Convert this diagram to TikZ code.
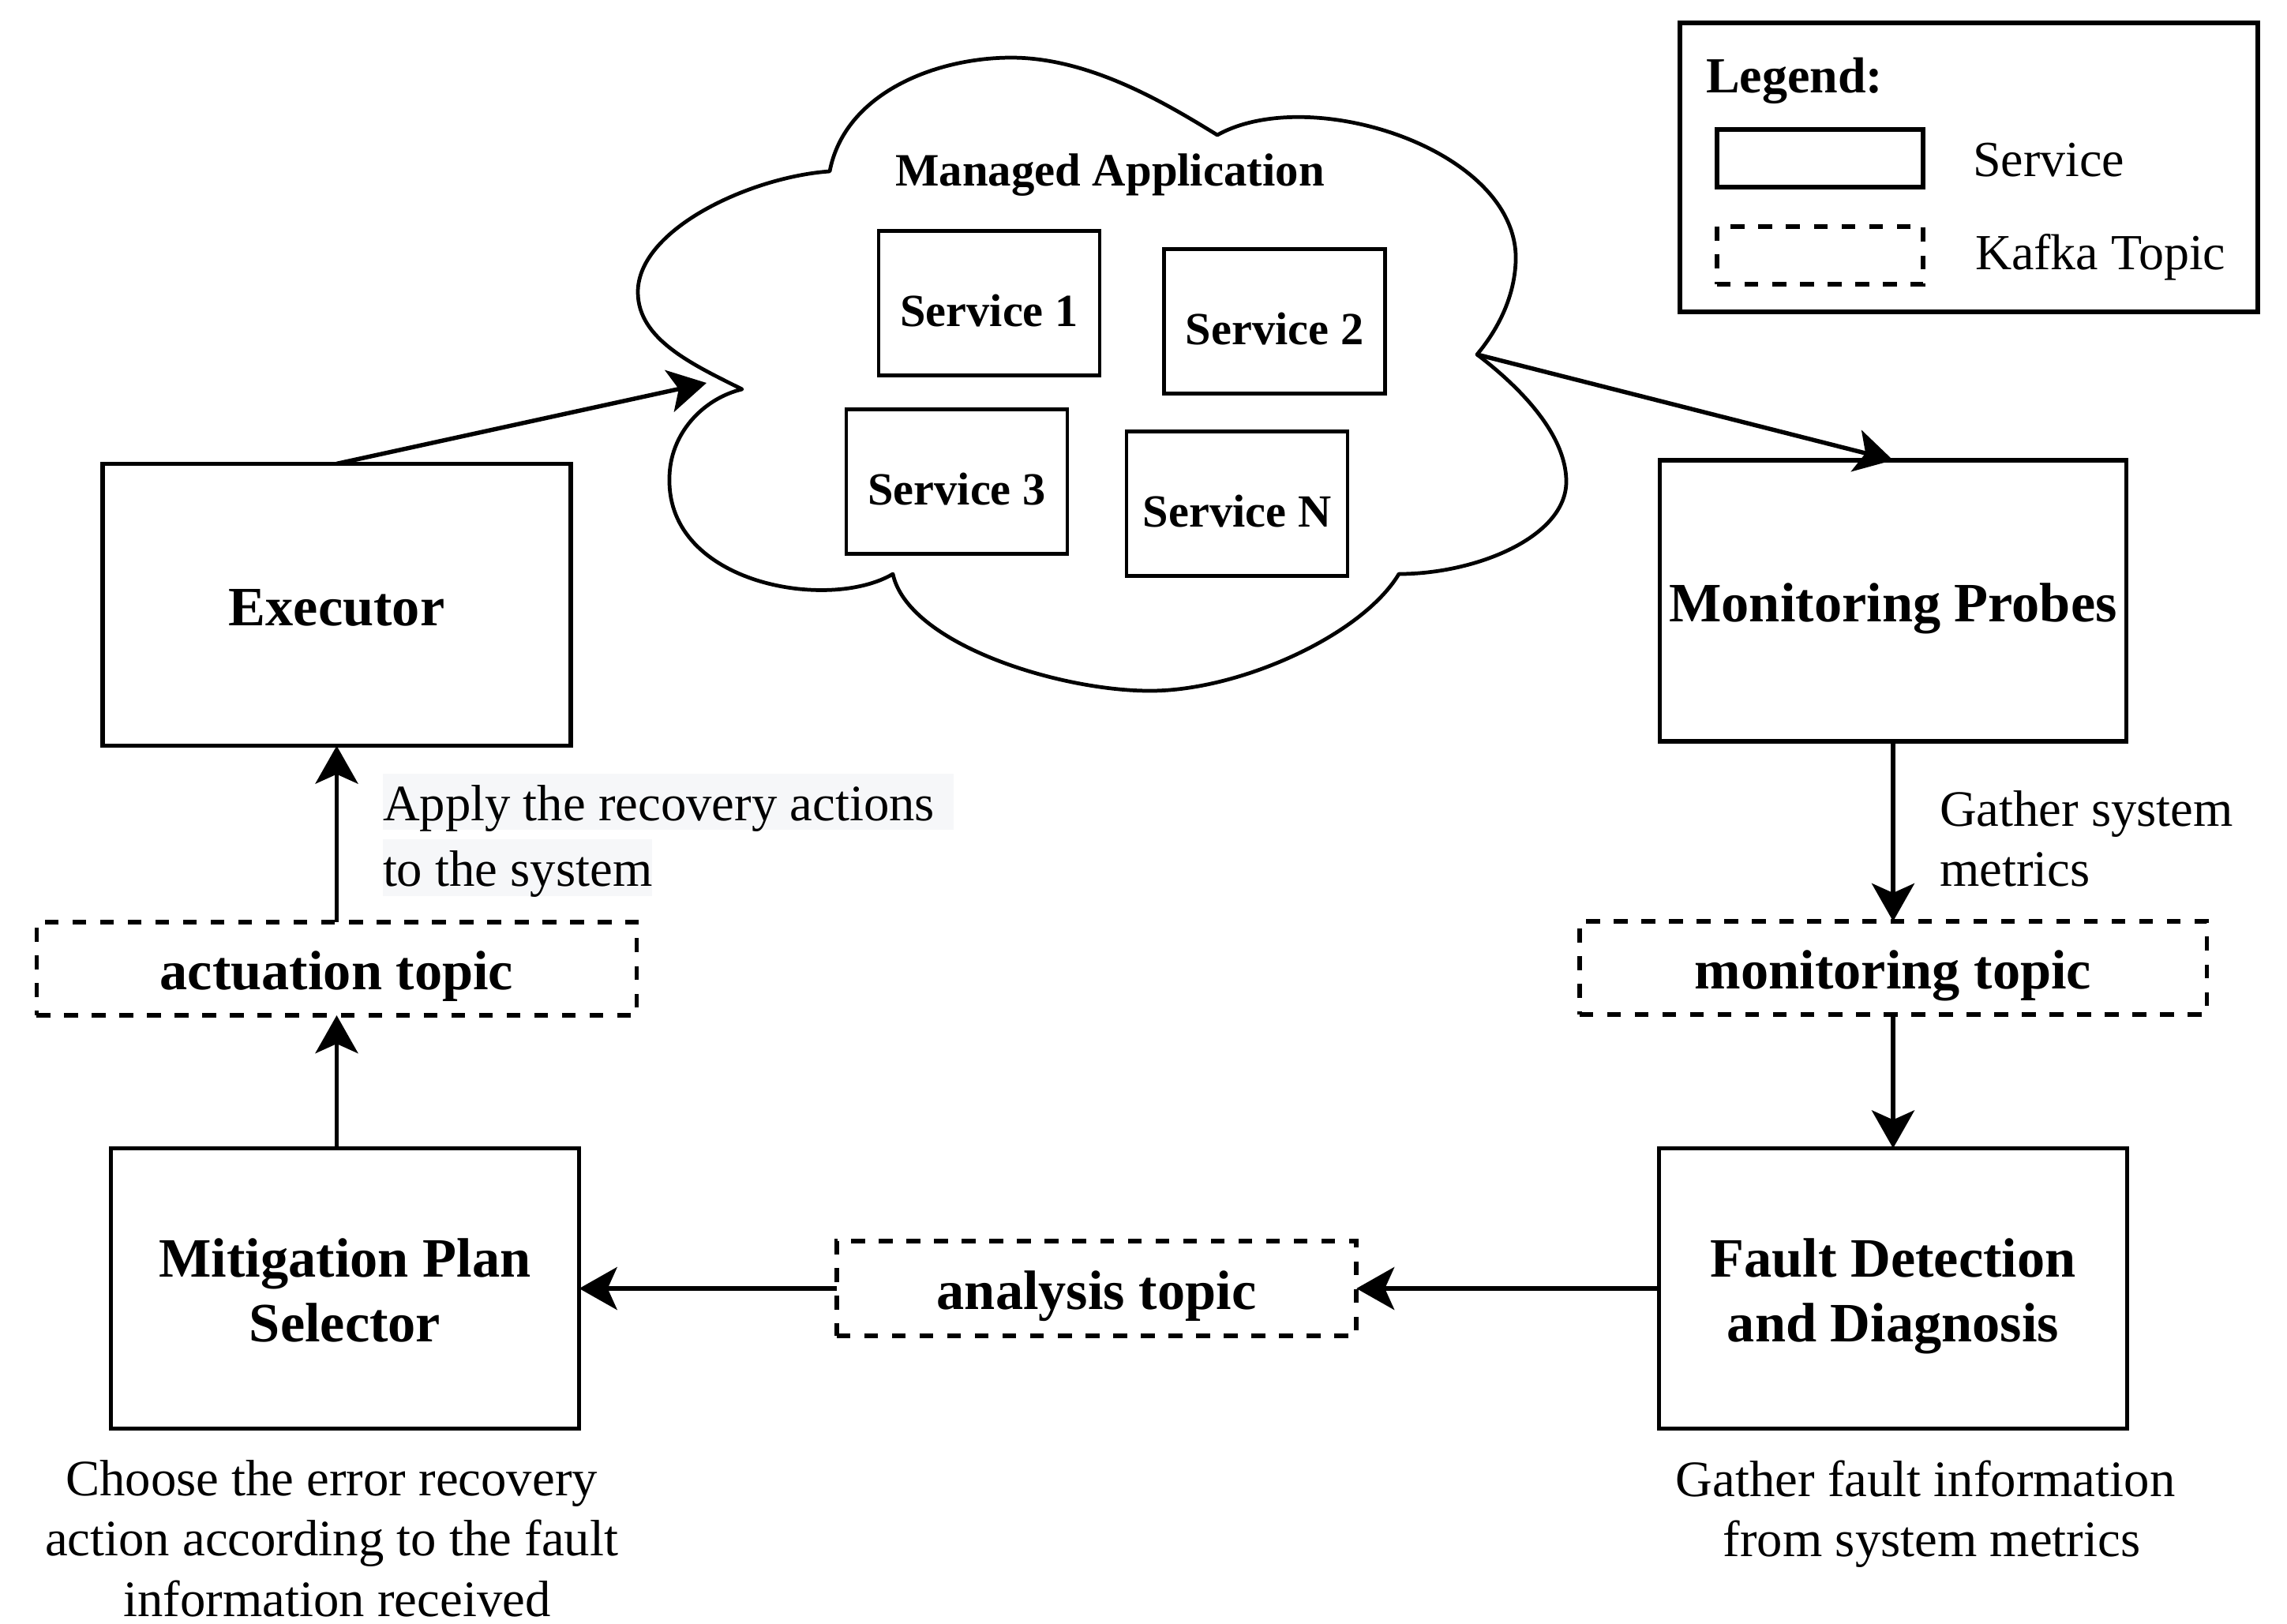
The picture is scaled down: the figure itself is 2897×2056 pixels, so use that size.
\documentclass[tikz,border=0pt]{standalone}
\usepackage{fontspec}
\setmainfont{Liberation Serif}
\usetikzlibrary{arrows.meta}

\definecolor{notebg}{RGB}{246,247,249}
% struts that give two-line component labels a fixed top and bottom
\newcommand{\topstrut}{\rule{0pt}{19.6pt}}
\newcommand{\botstrut}{\rule[-4.4pt]{0pt}{0pt}}

\begin{document}
\begin{tikzpicture}[x=0.01cm, y=-0.01cm,
  every node/.style={inner sep=0pt, outer sep=0pt},
  comp/.style={draw, line width=1.55pt, align=center,
    font=\bfseries\fontsize{20}{23.2}\selectfont},
  oneline/.style={text height=19.6pt, text depth=4.4pt},
  topic/.style={draw, line width=1.55pt, dash pattern=on 0.175cm off 0.175cm,
    text height=19.6pt, text depth=4.4pt,
    font=\bfseries\fontsize{20}{23.2}\selectfont},
  svc/.style={draw, line width=1.35pt, minimum width=2.8cm, minimum height=1.83cm,
    text height=20.3pt, text depth=3.6pt,
    font=\bfseries\fontsize{16.6}{20}\selectfont},
  note/.style={font=\fontsize{18.4}{21.6}\selectfont},
  legtext/.style={font=\fontsize{18.2}{21}\selectfont},
  cloudline/.style={line width=1.35pt, line join=round},
  flow/.style={line width=1.55pt,
    -{Stealth[length=0.48cm, width=0.54cm, inset=0.12cm]}}
]
\fill[white] (0,0) rectangle (2897,2056);
\useasboundingbox (0,0) rectangle (2897,2056);

% managed application cloud
\draw[cloudline, fill=white] (940,493)
  .. controls (878,462) and (808,430) .. (808,370)
  .. controls (808,290) and (951,224) .. (1051,217)
  .. controls (1070,118) and (1185,73) .. (1281,73)
  .. controls (1382,73) and (1480,133) .. (1542,171)
  .. controls (1660,105) and (1925,190) .. (1920,331)
  .. controls (1918,380) and (1895,420) .. (1871,449)
  .. controls (1925,490) and (1984,550) .. (1984,610)
  .. controls (1984,680) and (1870,727) .. (1772,727)
  .. controls (1725,805) and (1570,875) .. (1457,875)
  .. controls (1340,875) and (1150,815) .. (1131,727)
  .. controls (1050,775) and (845,740) .. (848,606)
  .. controls (848,550) and (890,505) .. (940,493) -- cycle;
\coordinate (appIn) at (895,485);
\coordinate (appOut) at (1871,449);

\node[anchor=base, font=\bfseries\fontsize{16.7}{20}\selectfont] (appTitle) at (1406,235) {Managed Application};
\node[svc] (svc1) at (1253,384) {Service 1};
\node[svc] (svc2) at (1614.5,407) {Service 2};
\node[svc] (svc3) at (1212,610) {Service 3};
\node[svc] (svcN) at (1567,638) {Service N};

% loop components
\node[comp, oneline, minimum width=5.93cm, minimum height=3.57cm] (exec) at (426.5,766) {Executor};
\node[comp, oneline, minimum width=5.91cm, minimum height=3.56cm] (probes) at (2398,761) {Monitoring Probes};
\node[comp, minimum width=5.93cm, minimum height=3.55cm] (planner) at (437,1632) {\topstrut Mitigation Plan\\Selector\botstrut};
\node[comp, minimum width=5.93cm, minimum height=3.55cm] (fdd) at (2398,1632) {\topstrut Fault Detection\\and Diagnosis\botstrut};

% kafka topics
\node[topic, minimum width=7.6cm, minimum height=1.18cm] (actT) at (426.5,1227) {actuation topic};
\node[topic, minimum width=7.94cm, minimum height=1.18cm] (monT) at (2398,1226) {monitoring topic};
\node[topic, minimum width=6.58cm, minimum height=1.2cm] (anaT) at (1389,1632) {analysis topic};

% connectors
\draw[flow] (exec.north) -- (appIn);
\draw[flow] (appOut) -- (probes.north);
\draw[flow] (probes.south) -- (monT.north);
\draw[flow] (monT.south) -- (fdd.north);
\draw[flow] (fdd.west) -- (anaT.east);
\draw[flow] (anaT.west) -- (planner.east);
\draw[flow] (actT.south |- planner.north) -- (actT.south);
\draw[flow] (actT.north) -- (exec.south);

% annotations
\node[note, fill=notebg, anchor=base west, text height=0.59cm, text depth=0.12cm] (apply1) at (485,1039) {Apply the recovery actions\hspace*{0.24cm}};
\node[note, fill=notebg, anchor=base west, text height=0.6cm, text depth=0.12cm] (apply2) at (485,1122.6) {to the system};
\node[note, anchor=base west] (gather1) at (2457,1046) {Gather system};
\node[note, anchor=base west] (gather2) at (2457,1122) {metrics};
\node[note, anchor=base] (choose1) at (420,1894) {Choose the error recovery};
\node[note, anchor=base] (choose2) at (420,1970.5) {action according to the fault};
\node[note, anchor=base] (choose3) at (427,2047) {information received};
\node[note, anchor=base] (fault1) at (2439,1895) {Gather fault information};
\node[note, anchor=base] (fault2) at (2447,1971.5) {from system metrics};

% legend
\node[draw, line width=1.8pt, minimum width=7.32cm, minimum height=3.66cm] (legend) at (2494,212) {};
\node[anchor=base west, font=\bfseries\fontsize{18.2}{21}\selectfont] (legendTitle) at (2161,117) {Legend:};
\node[draw, line width=1.55pt, minimum width=2.61cm, minimum height=0.73cm] (legSvc) at (2305.5,200.5) {};
\node[legtext, anchor=base west] (legSvcText) at (2499,223) {Service};
\node[draw, line width=1.55pt, dash pattern=on 0.175cm off 0.175cm, minimum width=2.61cm, minimum height=0.73cm] (legTopic) at (2305.5,323.5) {};
\node[legtext, anchor=base west] (legTopicText) at (2502,341) {Kafka Topic};
\end{tikzpicture}
\end{document}
